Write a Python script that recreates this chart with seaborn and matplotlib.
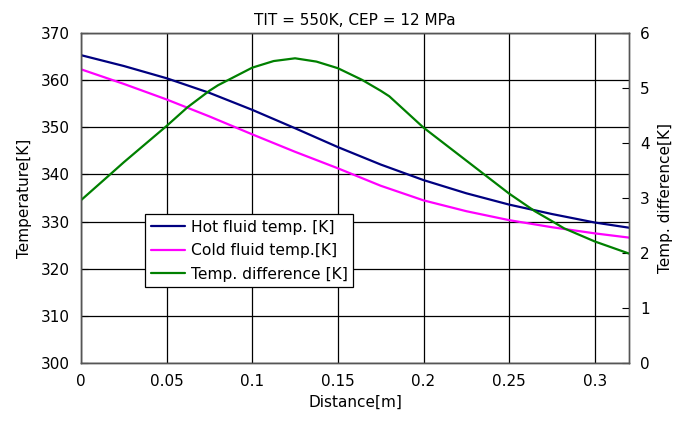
import numpy as np
import pandas as pd
import seaborn as sns
import matplotlib
matplotlib.use("Agg")
import matplotlib.pyplot as plt

# distance [m] and temperatures
distance = [0, 0.025, 0.05, 0.075, 0.1, 0.125, 0.15, 0.175, 0.2, 0.225, 0.25, 0.275, 0.3, 0.32]
hot_temp = [365.3, 363.0, 360.4, 357.3, 353.7, 349.8, 345.8, 342.1, 338.8, 336.0, 333.6, 331.6, 329.8, 328.7]
cold_temp = [362.3, 359.2, 355.9, 352.3, 348.5, 344.8, 341.3, 337.6, 334.5, 332.2, 330.3, 328.8, 327.5, 326.6]

dist_diff = [0, 0.0167, 0.025, 0.05, 0.0622, 0.075, 0.08, 0.1, 0.1125, 0.125, 0.1375, 0.15,
             0.164, 0.175, 0.18, 0.2, 0.225, 0.235, 0.25, 0.265, 0.275, 0.282, 0.3, 0.32]
temp_diff = [2.96, 3.42, 3.65, 4.31, 4.65, 4.95, 5.05, 5.37, 5.49, 5.54, 5.48, 5.36,
             5.15, 4.95, 4.85, 4.28, 3.68, 3.44, 3.08, 2.76, 2.58, 2.45, 2.21, 1.99]

sns.set_style("white")
plt.rcParams['font.family'] = ['Liberation Sans Narrow', 'DejaVu Sans']
plt.rcParams['font.size'] = 11
plt.rcParams['text.color'] = 'black'
plt.rcParams['axes.labelcolor'] = 'black'
plt.rcParams['xtick.color'] = 'black'
plt.rcParams['ytick.color'] = 'black'

df = pd.DataFrame({'x': distance, 'hot': hot_temp, 'cold': cold_temp})
dd = pd.DataFrame({'x': dist_diff, 'diff': temp_diff})

fig = plt.figure(figsize=(6.89, 4.29), dpi=100)
ax = fig.add_axes([81/689, 1-363/429, 548/689, 330/429])
ax2 = ax.twinx()

sns.lineplot(data=df, x='x', y='hot', ax=ax, color='#000080', lw=1.6, label='Hot fluid temp. [K]', legend=False)
sns.lineplot(data=df, x='x', y='cold', ax=ax, color='#ff00ff', lw=1.6, label='Cold fluid temp.[K]', legend=False)
sns.lineplot(data=dd, x='x', y='diff', ax=ax2, color='#008000', lw=1.6, label='Temp. difference [K]', legend=False)

ax.set_xlim(0, 0.32)
ax.set_ylim(300, 370)
ax2.set_ylim(0, 6)
ax.set_xticks([0, 0.05, 0.1, 0.15, 0.2, 0.25, 0.3])
ax.set_xticklabels(['0', '0.05', '0.1', '0.15', '0.2', '0.25', '0.3'])
ax.set_yticks(range(300, 371, 10))
ax2.set_yticks(range(0, 7))
ax.grid(True, color='black', lw=0.9)
ax.set_axisbelow(True)
for a in (ax, ax2):
    a.tick_params(direction='in', length=5, color='black', labelsize=11, pad=8)
    for s in a.spines.values():
        s.set_color('#555555')
        s.set_linewidth(1.0)

ax.set_xlabel('Distance[m]', fontsize=11, labelpad=4)
ax.set_ylabel('Temperature[K]', fontsize=11, labelpad=6)
ax2.set_ylabel('Temp. difference[K]', fontsize=11, labelpad=6)
ax.set_title('TIT = 550K, CEP = 12 MPa', fontsize=11, pad=6)

h1, l1 = ax.get_legend_handles_labels()
h2, l2 = ax2.get_legend_handles_labels()
leg = ax2.legend(h1 + h2, l1 + l2, loc='lower left', bbox_to_anchor=(0.117, 0.23),
                 borderaxespad=0, fancybox=False, framealpha=1, edgecolor='black',
                 fontsize=11.2, handlelength=2.2, handletextpad=0.4, labelspacing=0.55,
                 borderpad=0.35)
leg.get_frame().set_linewidth(0.9)

fig.savefig('out.png', dpi=100)
